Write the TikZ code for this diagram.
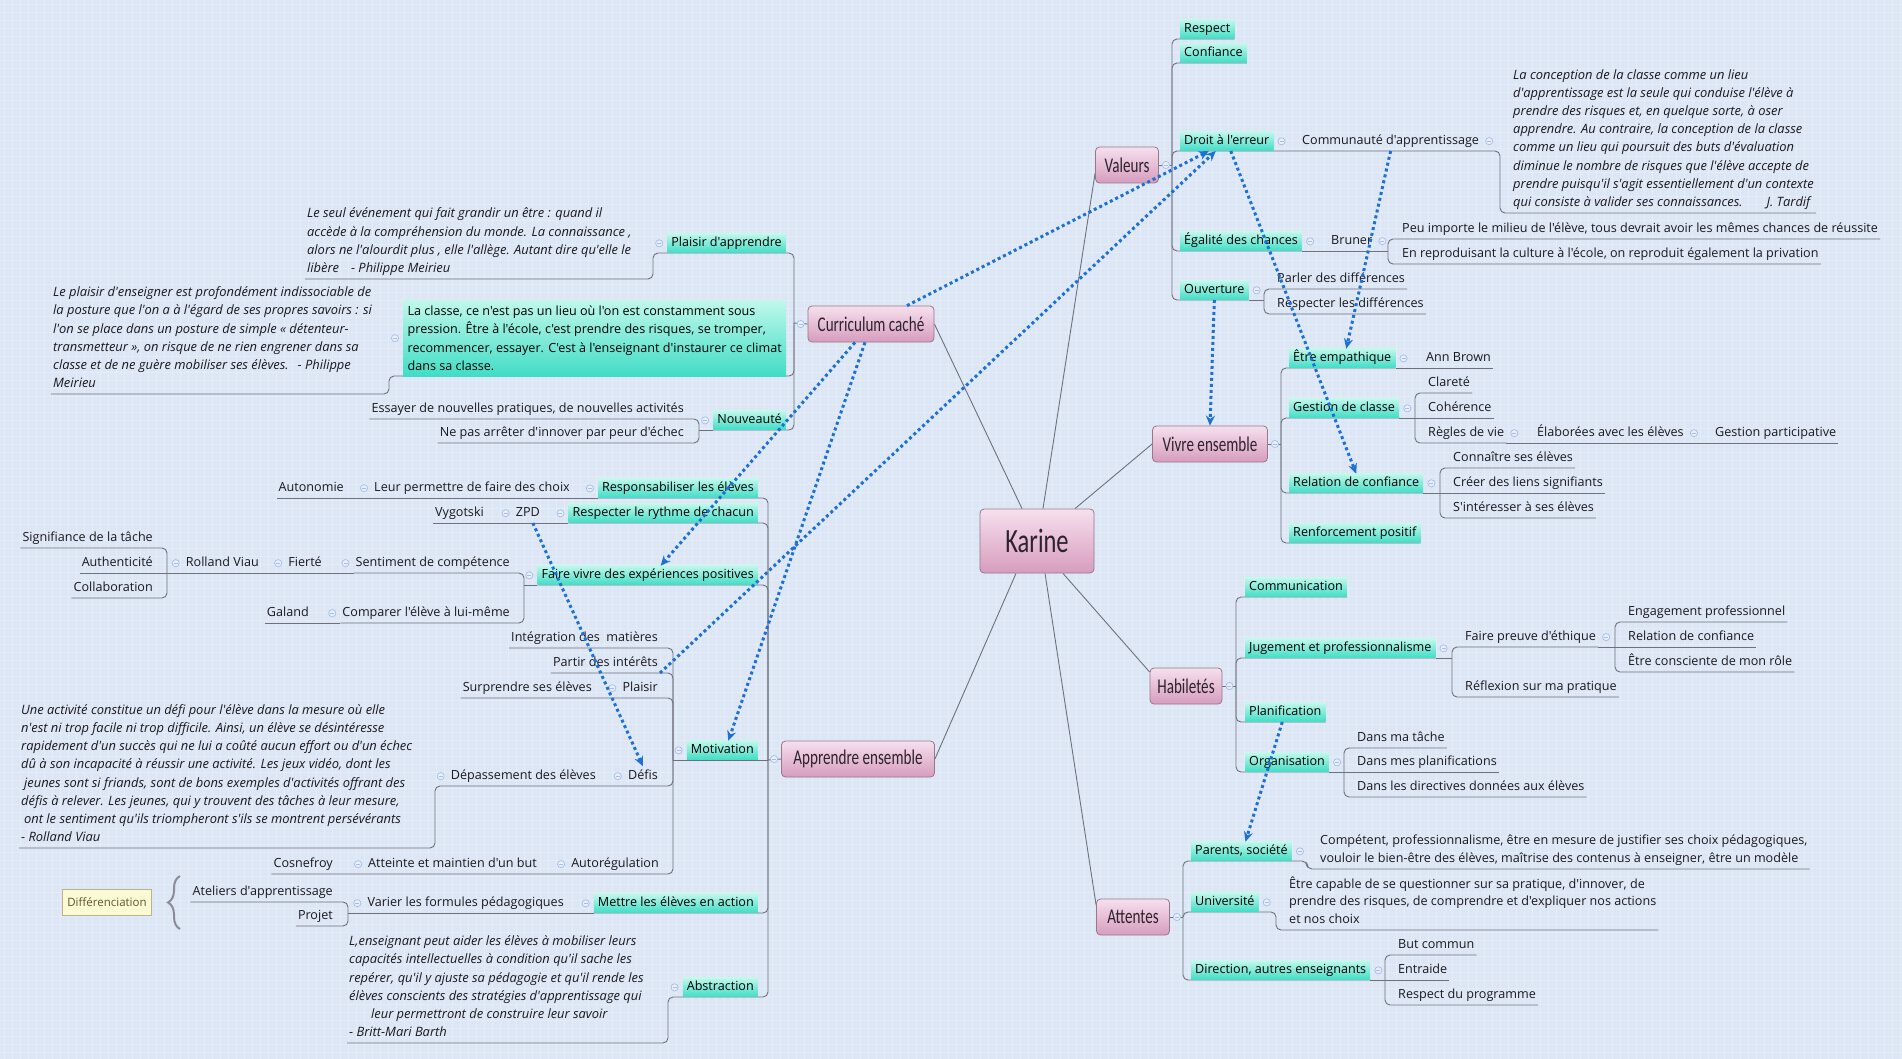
\documentclass[tikz,border=0pt]{standalone}
\usepackage{fontspec}
\setmainfont{Open Sans}[Ligatures=TeXOff]
\newfontfamily\topicfont[FakeStretch=0.72]{Carlito}
\usetikzlibrary{arrows.meta,decorations.pathreplacing}
\pgfdeclarelayer{back}
\pgfsetlayers{back,main}
\definecolor{bgc}{RGB}{221,230,245}
\definecolor{gridc}{RGB}{229,236,249}
\definecolor{tealtop}{RGB}{192,248,235}
\definecolor{tealbot}{RGB}{64,221,198}
\definecolor{pinktop}{RGB}{246,224,237}
\definecolor{pinkbot}{RGB}{214,156,190}
\definecolor{pinkdraw}{RGB}{150,120,138}
\definecolor{topictxt}{RGB}{45,35,45}
\definecolor{conncol}{RGB}{110,112,125}
\definecolor{relcol}{RGB}{28,112,214}
\definecolor{cmcol}{RGB}{165,190,232}
\definecolor{cmfill}{RGB}{232,238,251}
\definecolor{txtcol}{RGB}{25,25,30}
\definecolor{diffill}{RGB}{250,250,212}
\definecolor{difdraw}{RGB}{185,180,140}
\definecolor{diftxt}{RGB}{95,85,50}
\definecolor{bracecol}{RGB}{140,140,152}
\tikzset{
  txt/.style={inner xsep=2pt, inner ysep=3.5pt, text height=9.3pt, text depth=3pt, font=\fontsize{12.6}{17.5}\selectfont, text=txtcol},
  sub/.style={inner xsep=4pt, inner ysep=3.3pt, text height=9.3pt, text depth=3pt, font=\fontsize{12.6}{17.5}\selectfont, text=black, top color=tealtop, bottom color=tealbot},
  multi/.style={inner xsep=2pt, inner ysep=3.5pt, text depth=3pt, align=left, font=\fontsize{12.6}{17.5}\selectfont, text=txtcol},
  quote/.style={inner xsep=2pt, inner ysep=3.5pt, text depth=3pt, align=left, font=\fontsize{12.9}{18.1}\selectfont\itshape, text=txtcol},
  bigsub/.style={inner xsep=3pt, inner ysep=3pt, align=left, minimum width=383pt, minimum height=76pt, font=\fontsize{12.6}{18.3}\selectfont, text=black, top color=tealtop, bottom color=tealbot},
  topic/.style={rounded corners=4pt, draw=pinkdraw, line width=0.8pt, top color=pinktop, bottom color=pinkbot, minimum height=36pt, font=\topicfont\fontsize{21}{23}\selectfont, text=topictxt, inner sep=0pt},
  conn/.style={draw=conncol, line width=0.9pt, rounded corners=5pt},
  rel/.style={draw=relcol, line width=3pt, dash pattern=on 3pt off 3pt, -{Stealth[length=10pt,width=9pt]}},
  cmark/.style={circle, draw=cmcol, fill=cmfill, line width=0.7pt, minimum size=7.2pt, inner sep=0pt, path picture={\draw[cmcol, line width=0.8pt] ([xshift=-2pt]path picture bounding box.center) -- ([xshift=2pt]path picture bounding box.center);}},
  difbox/.style={draw=difdraw, fill=diffill, line width=0.6pt, minimum width=89pt, minimum height=26pt, inner sep=0pt, font=\fontsize{11.5}{13}\selectfont, text=diftxt}
}
\newcommand\mkR[2]{\node[cmark] (#2) at ([xshift=8pt]#1.east) {};}
\newcommand\mkL[2]{\node[cmark] (#2) at ([xshift=-8pt]#1.west) {};}
\begin{document}
\begin{tikzpicture}[x=1pt,y=-1pt]
\useasboundingbox (0,0) rectangle (1902,1059);
\begin{pgfonlayer}{back}
\fill[bgc] (0,0) rectangle (1902,1059);
\foreach \gx in {4,12,...,1902} \draw[gridc,line width=0.5pt] (\gx,0) -- (\gx,1059);
\foreach \gy in {4,12,...,1059} \draw[gridc,line width=0.5pt] (0,\gy) -- (1902,\gy);
\end{pgfonlayer}

% ---------- topics ----------
\node[topic, minimum width=114pt, minimum height=64pt, font=\topicfont\fontsize{34}{36}\selectfont] (karine) at (1037,541) {Karine};
\node[topic, minimum width=63pt] (valeurs) at (1127,165) {Valeurs};
\node[topic, minimum width=126pt] (curr) at (871,324) {Curriculum caché};
\node[topic, minimum width=115pt] (vivre) at (1210,444) {Vivre ensemble};
\node[topic, minimum width=72pt] (habi) at (1186,686) {Habiletés};
\node[topic, minimum width=73pt] (attentes) at (1133,917) {Attentes};
\node[topic, minimum width=153pt] (apprendre) at (858,759) {Apprendre ensemble};

% ---------- Valeurs ----------
\node[sub, anchor=south west] (respect) at (1180,39) {Respect};
\node[sub, anchor=south west] (confiance) at (1180,63) {Confiance};
\node[sub, anchor=south west] (droit) at (1180,151) {Droit à l'erreur};
\node[txt, anchor=south west] (comm) at (1300,151) {Communauté d'apprentissage};
\node[quote, anchor=south west] (tardif) at (1511,213) {La conception de la classe comme un lieu\\d'apprentissage est la seule qui conduise l'élève à\\prendre des risques et, en quelque sorte, à oser\\apprendre. Au contraire, la conception de la classe\\comme un lieu qui poursuit des buts d'évaluation\\diminue le nombre de risques que l'élève accepte de\\prendre puisqu'il s'agit essentiellement d'un contexte\\qui consiste à valider ses connaissances.\hspace{24pt}J. Tardif};
\node[sub, anchor=south west] (egalite) at (1180,251) {Égalité des chances};
\node[txt, anchor=south west] (bruner) at (1329,251) {Bruner};
\node[txt, anchor=south west] (peu) at (1400,239) {Peu importe le milieu de l'élève, tous devrait avoir les mêmes chances de réussite};
\node[txt, anchor=south west] (repro) at (1400,264) {En reproduisant la culture à l'école, on reproduit également la privation};
\node[sub, anchor=south west] (ouv) at (1180,300) {Ouverture};
\node[txt, anchor=south west] (parler) at (1275,289) {Parler des différences};
\node[txt, anchor=south west] (respdiff) at (1275,314) {Respecter les différences};

% ---------- Vivre ensemble ----------
\node[sub, anchor=south west] (etre) at (1289,368) {Être empathique};
\node[txt, anchor=south west] (ann) at (1424,368) {Ann Brown};
\node[sub, anchor=south west] (gestion) at (1289,418) {Gestion de classe};
\node[txt, anchor=south west] (clarete) at (1426,393) {Clareté};
\node[txt, anchor=south west] (coherence) at (1426,418) {Cohérence};
\node[txt, anchor=south west] (regles) at (1426,443) {Règles de vie};
\node[txt, anchor=south west] (elab) at (1535,443) {Élaborées avec les élèves};
\node[txt, anchor=south west] (gespart) at (1713,443) {Gestion participative};
\node[sub, anchor=south west] (relconf) at (1289,493) {Relation de confiance};
\node[txt, anchor=south west] (connaitre) at (1451,468) {Connaître ses élèves};
\node[txt, anchor=south west] (creer) at (1451,493) {Créer des liens signifiants};
\node[txt, anchor=south west] (interesser) at (1451,518) {S'intéresser à ses élèves};
\node[sub, anchor=south west] (renfo) at (1289,543) {Renforcement positif};

% ---------- Habiletés ----------
\node[sub, anchor=south west] (communication) at (1245,597) {Communication};
\node[sub, anchor=south west] (jug) at (1245,658) {Jugement et professionnalisme};
\node[txt, anchor=south west] (faire) at (1463,647) {Faire preuve d'éthique};
\node[txt, anchor=south west] (engag) at (1626,622) {Engagement professionnel};
\node[txt, anchor=south west] (relconf2) at (1626,647) {Relation de confiance};
\node[txt, anchor=south west] (consc) at (1626,672) {Être consciente de mon rôle};
\node[txt, anchor=south west] (reflex) at (1463,697) {Réflexion sur ma pratique};
\node[sub, anchor=south west] (plan) at (1245,722) {Planification};
\node[sub, anchor=south west] (orga) at (1245,772) {Organisation};
\node[txt, anchor=south west] (tache) at (1355,748) {Dans ma tâche};
\node[txt, anchor=south west] (planifs) at (1355,772) {Dans mes planifications};
\node[txt, anchor=south west] (direct) at (1355,797) {Dans les directives données aux élèves};

% ---------- Attentes ----------
\node[sub, anchor=south west] (parents) at (1191,861) {Parents, société};
\node[multi, anchor=south west] (competent) at (1318,869) {Compétent, professionnalisme, être en mesure de justifier ses choix pédagogiques,\\vouloir le bien-être des élèves, maîtrise des contenus à enseigner, être un modèle};
\node[sub, anchor=south west] (univ) at (1191,912) {Université};
\node[multi, anchor=south west] (etrecap) at (1287,930) {Être capable de se questionner sur sa pratique, d'innover, de\\prendre des risques, de comprendre et d'expliquer nos actions\\et nos choix};
\node[sub, anchor=south west] (direction) at (1191,980) {Direction, autres enseignants};
\node[txt, anchor=south west] (but) at (1396,955) {But commun};
\node[txt, anchor=south west] (entraide) at (1396,980) {Entraide};
\node[txt, anchor=south west] (respprog) at (1396,1005) {Respect du programme};

% ---------- Curriculum caché ----------
\node[sub, anchor=south east] (plaisirapp) at (786,253) {Plaisir d'apprendre};
\node[quote, anchor=south west] (meirieu1) at (305,279) {Le seul événement qui fait grandir un être : quand il\\accède à la compréhension du monde. La connaissance ,\\alors ne l'alourdit plus , elle l'allège. Autant dire qu'elle le\\libère\hspace{12pt}- Philippe Meirieu};
\node[bigsub, anchor=north west] (laclasse) at (403,300) {La classe, ce n'est pas un lieu où l'on est constamment sous\\pression. Être à l'école, c'est prendre des risques, se tromper,\\recommencer, essayer. C'est à l'enseignant d'instaurer ce climat\\dans sa classe.};
\node[quote, anchor=south west] (meirieu2) at (51,394) {Le plaisir d'enseigner est profondément indissociable de\\la posture que l'on a à l'égard de ses propres savoirs : si\\l'on se place dans un posture de simple « détenteur-\\transmetteur », on risque de ne rien engrener dans sa\\classe et de ne guère mobiliser ses élèves.\hspace{9pt}- Philippe\\Meirieu};
\node[sub, anchor=south east] (nouveaute) at (786,430) {Nouveauté};
\node[txt, anchor=south east] (essayer) at (686,419) {Essayer de nouvelles pratiques, de nouvelles activités};
\node[txt, anchor=south east] (nepas) at (686,443) {Ne pas arrêter d'innover par peur d'échec};

% ---------- Apprendre ensemble ----------
\node[sub, anchor=south east] (respons) at (758,498) {Responsabiliser les élèves};
\node[txt, anchor=south east] (leur) at (572,498) {Leur permettre de faire des choix};
\node[txt, anchor=south east] (autonomie) at (346,498) {Autonomie};
\node[sub, anchor=south east] (rythme) at (758,523) {Respecter le rythme de chacun};
\node[txt, anchor=south east] (zpd) at (542,523) {ZPD};
\node[txt, anchor=south east] (vygotski) at (486,523) {Vygotski};
\node[sub, anchor=south east] (fv) at (758,585) {Faire vivre des expériences positives};
\node[txt, anchor=south east] (sentiment) at (512,573) {Sentiment de compétence};
\node[txt, anchor=south east] (fierte) at (324,573) {Fierté};
\node[txt, anchor=south east] (rolland) at (261,573) {Rolland Viau};
\node[txt, anchor=south east] (signifiance) at (155,548) {Signifiance de la tâche};
\node[txt, anchor=south east] (authenticite) at (155,573) {Authenticité};
\node[txt, anchor=south east] (collaboration) at (155,598) {Collaboration};
\node[txt, anchor=south east] (comparer) at (512,623) {Comparer l'élève à lui-même};
\node[txt, anchor=south east] (galand) at (311,623) {Galand};
\node[sub, anchor=south east] (motiv) at (758,760) {Motivation};
\node[txt, anchor=south east] (integration) at (660,648) {Intégration des\ \ matières};
\node[txt, anchor=south east] (partir) at (660,673) {Partir des intérêts};
\node[txt, anchor=south east] (plaisir) at (660,698) {Plaisir};
\node[txt, anchor=south east] (surprendre) at (594,698) {Surprendre ses élèves};
\node[txt, anchor=south east] (defis) at (660,786) {Défis};
\node[txt, anchor=south east] (depass) at (598,786) {Dépassement des élèves};
\node[quote, anchor=south west] (viau) at (19,848) {Une activité constitue un défi pour l'élève dans la mesure où elle\\n'est ni trop facile ni trop difficile. Ainsi, un élève se désintéresse\\rapidement d'un succès qui ne lui a coûté aucun effort ou d'un échec\\dû à son incapacité à réussir une activité. Les jeux vidéo, dont les\\\hspace{3pt}jeunes sont si friands, sont de bons exemples d'activités offrant des\\défis à relever. Les jeunes, qui y trouvent des tâches à leur mesure,\\\hspace{3pt}ont le sentiment qu'ils triompheront s'ils se montrent persévérants\\- Rolland Viau};
\node[txt, anchor=south east] (autoreg) at (661,874) {Autorégulation};
\node[txt, anchor=south east] (atteinte) at (539,874) {Atteinte et maintien d'un but};
\node[txt, anchor=south east] (cosnefroy) at (335,874) {Cosnefroy};
\node[sub, anchor=south east] (action) at (758,913) {Mettre les élèves en action};
\node[txt, anchor=south east] (varier) at (566,913) {Varier les formules pédagogiques};
\node[txt, anchor=south east] (ateliers) at (335,902) {Ateliers d'apprentissage};
\node[txt, anchor=south east] (projet) at (335,926) {Projet};
\node[difbox] (diff) at (107,902) {Différenciation};
\draw[decorate, decoration={brace, amplitude=12pt}, line width=2pt, draw=bracecol] (180,929) -- (180,876);
\node[sub, anchor=south east] (abstraction) at (758,997) {Abstraction};
\node[quote, anchor=south west] (barth) at (347,1043) {L,enseignant peut aider les élèves à mobiliser leurs\\capacités intellectuelles à condition qu'il sache les\\repérer, qu'il y ajuste sa pédagogie et qu'il rende les\\élèves conscients des stratégies d'apprentissage qui\\\hspace{22pt}leur permettront de construire leur savoir\\- Britt-Mari Barth};

% ---------- junctions ----------
\coordinate (vj) at (1172,165);
\coordinate (tj) at (1500,151);
\coordinate (bj) at (1388,251);
\coordinate (ouvj) at (1264,300);
\coordinate (vej) at (1281,444);
\coordinate (gj) at (1415,418);
\coordinate (rj) at (1440,493);
\coordinate (hj) at (1236,686);
\coordinate (jj) at (1452,658);
\coordinate (fj) at (1615,647);
\coordinate (oj) at (1344,772);
\coordinate (aj) at (1183,917);
\coordinate (pj) at (1307,861);
\coordinate (uj) at (1276,912);
\coordinate (dj) at (1385,980);
\coordinate (cj) at (794,323);
\coordinate (pj2) at (653,253);
\coordinate (lcj) at (389,376);
\coordinate (nj) at (699,430);
\coordinate (apj) at (768,760);
\coordinate (fvj) at (524,585);
\coordinate (rvj) at (167,573);
\coordinate (mj) at (673,760);
\coordinate (dpj) at (435,786);
\coordinate (vj2) at (348,913);
\coordinate (abj) at (668,997);

\begin{pgfonlayer}{back}
% central
\draw[conn] ([xshift=-15pt]karine.north) -- (curr.east);
\draw[conn] ([xshift=6pt]karine.north) -- ([yshift=-8pt]valeurs.west);
\draw[conn] ([xshift=38pt]karine.north) -- (vivre.west);
\draw[conn] ([xshift=26pt]karine.south) -- ([yshift=14pt]habi.west);
\draw[conn] ([xshift=8pt]karine.south) -- ([yshift=12pt]attentes.west);
\draw[conn] ([xshift=-21pt]karine.south) -- (apprendre.east);
% Valeurs
\draw[conn] (valeurs.east) -- (vj);
\draw[conn] (vj) |- (respect.south east);
\draw[conn] (vj) |- (confiance.south east);
\draw[conn] (vj) |- (droit.south east);
\draw[conn] (droit.south east) -- (tj) |- (tardif.south east);
\draw[conn] (vj) |- (egalite.south east);
\draw[conn] (egalite.south east) -- (bj);
\draw[conn] (bj) |- (peu.south east);
\draw[conn] (bj) |- (repro.south east);
\draw[conn] (vj) |- (ouv.south east);
\draw[conn] (ouv.south east) -- (ouvj);
\draw[conn] (ouvj) |- (parler.south east);
\draw[conn] (ouvj) |- (respdiff.south east);
% Vivre ensemble
\draw[conn] (vivre.east) -- (vej);
\draw[conn] (vej) |- (etre.south east);
\draw[conn] (etre.south east) -- (ann.south east);
\draw[conn] (vej) |- (gestion.south east);
\draw[conn] (gestion.south east) -- (gj);
\draw[conn] (gj) |- (clarete.south east);
\draw[conn] (gj) -- (coherence.south east);
\draw[conn] (gj) |- (regles.south east);
\draw[conn] (regles.south east) -- (gespart.south east);
\draw[conn] (vej) |- (relconf.south east);
\draw[conn] (relconf.south east) -- (rj);
\draw[conn] (rj) |- (connaitre.south east);
\draw[conn] (rj) -- (creer.south east);
\draw[conn] (rj) |- (interesser.south east);
\draw[conn] (vej) |- (renfo.south east);
% Habiletés
\draw[conn] (habi.east) -- (hj);
\draw[conn] (hj) |- (communication.south east);
\draw[conn] (hj) |- (jug.south east);
\draw[conn] (jug.south east) -- (jj);
\draw[conn] (jj) |- (faire.south east);
\draw[conn] (faire.south east) -- (fj);
\draw[conn] (fj) |- (engag.south east);
\draw[conn] (fj) -- (relconf2.south east);
\draw[conn] (fj) |- (consc.south east);
\draw[conn] (jj) |- (reflex.south east);
\draw[conn] (hj) |- (plan.south east);
\draw[conn] (hj) |- (orga.south east);
\draw[conn] (orga.south east) -- (oj);
\draw[conn] (oj) |- (tache.south east);
\draw[conn] (oj) -- (planifs.south east);
\draw[conn] (oj) |- (direct.south east);
% Attentes
\draw[conn] (attentes.east) -- (aj);
\draw[conn] (aj) |- (parents.south east);
\draw[conn] (parents.south east) -- (pj) |- (competent.south east);
\draw[conn] (aj) |- (univ.south east);
\draw[conn] (univ.south east) -- (uj) |- (etrecap.south east);
\draw[conn] (aj) |- (direction.south east);
\draw[conn] (direction.south east) -- (dj);
\draw[conn] (dj) |- (but.south east);
\draw[conn] (dj) -- (entraide.south east);
\draw[conn] (dj) |- (respprog.south east);
% Curriculum caché
\draw[conn] (curr.west) -- (cj);
\draw[conn] (cj) |- (plaisirapp.south west);
\draw[conn] (plaisirapp.south west) -- (pj2) |- (meirieu1.south west);
\draw[conn] (cj) |- (lcj) |- (meirieu2.south west);
\draw[conn] (cj) |- (nouveaute.south west);
\draw[conn] (nouveaute.south west) -- (nj);
\draw[conn] (nj) |- (essayer.south west);
\draw[conn] (nj) |- (nepas.south west);
% Apprendre ensemble
\draw[conn] (apprendre.west) -- (apj);
\draw[conn] (apj) |- (respons.south west);
\draw[conn] (respons.south west) -- (autonomie.south west);
\draw[conn] (apj) |- (rythme.south west);
\draw[conn] (rythme.south west) -- (vygotski.south west);
\draw[conn] (apj) |- (fv.south west);
\draw[conn] (fv.south west) -- (fvj);
\draw[conn] (fvj) |- (sentiment.south west);
\draw[conn] (sentiment.south west) -- (rvj);
\draw[conn] (rvj) |- (signifiance.south west);
\draw[conn] (rvj) -- (authenticite.south west);
\draw[conn] (rvj) |- (collaboration.south west);
\draw[conn] (fvj) |- (comparer.south west);
\draw[conn] (comparer.south west) -- (galand.south west);
\draw[conn] (apj) -- (motiv.south west);
\draw[conn] (motiv.south west) -- (mj);
\draw[conn] (mj) |- (integration.south west);
\draw[conn] (mj) |- (partir.south west);
\draw[conn] (mj) |- (surprendre.south west);
\draw[conn] (mj) |- (defis.south west);
\draw[conn] (defis.south west) -- (dpj) |- (viau.south west);
\draw[conn] (mj) |- (cosnefroy.south west);
\draw[conn] (apj) |- (action.south west);
\draw[conn] (action.south west) -- (vj2);
\draw[conn] (vj2) |- (ateliers.south west);
\draw[conn] (vj2) |- (projet.south west);
\draw[conn] (apj) |- (abstraction.south west);
\draw[conn] (abstraction.south west) -- (abj) |- (barth.south west);
\end{pgfonlayer}

% ---------- collapse markers ----------
\node[cmark] (m1) at ([xshift=7pt]valeurs.east) {};
\mkR{droit}{m2} \mkR{comm}{m3} \mkR{egalite}{m4} \mkR{bruner}{m5} \mkR{ouv}{m6}
\node[cmark] (m7) at ([xshift=7pt]vivre.east) {};
\mkR{etre}{m8} \mkR{gestion}{m9} \mkR{regles}{m10} \mkR{elab}{m11} \mkR{relconf}{m12}
\node[cmark] (m13) at ([xshift=7pt]habi.east) {};
\mkR{jug}{m14} \mkR{faire}{m15} \mkR{orga}{m16}
\node[cmark] (m17) at ([xshift=7pt]attentes.east) {};
\mkR{parents}{m18} \mkR{univ}{m19} \mkR{direction}{m20}
\node[cmark] (m21) at ([xshift=-7pt]curr.west) {};
\mkL{plaisirapp}{m22} \mkL{laclasse}{m23} \mkL{nouveaute}{m24}
\node[cmark] (m25) at ([xshift=-7pt]apprendre.west) {};
\mkL{respons}{m26} \mkL{leur}{m27} \mkL{rythme}{m28} \mkL{zpd}{m29} \mkL{fv}{m30}
\mkL{sentiment}{m31} \mkL{fierte}{m32} \mkL{rolland}{m33} \mkL{comparer}{m34}
\mkL{motiv}{m35} \mkL{plaisir}{m36} \mkL{defis}{m37} \mkL{depass}{m38}
\mkL{autoreg}{m39} \mkL{atteinte}{m40} \mkL{action}{m41} \mkL{varier}{m42} \mkL{abstraction}{m43}

% ---------- relationships ----------
\draw[rel] ([xshift=36pt]curr.north) -- ([xshift=-18pt]droit.south);
\draw[rel] (partir.south east) -- ([xshift=-11pt]droit.south);
\draw[rel] ([xshift=-16pt]curr.south) -- ([xshift=13pt]fv.north);
\draw[rel] ([xshift=-6pt]curr.south) -- ([xshift=6pt]motiv.north);
\draw[rel] ([xshift=5pt]zpd.south) -- (defis.north);
\draw[rel] ([xshift=4pt]droit.south) -- (relconf.north);
\draw[rel] (comm.south) -- ([xshift=4pt]etre.north);
\draw[rel] (ouv.south) -- (vivre.north);
\draw[rel] ([xshift=-3pt]plan.south) -- ([xshift=4pt]parents.north);
\end{tikzpicture}
\end{document}
